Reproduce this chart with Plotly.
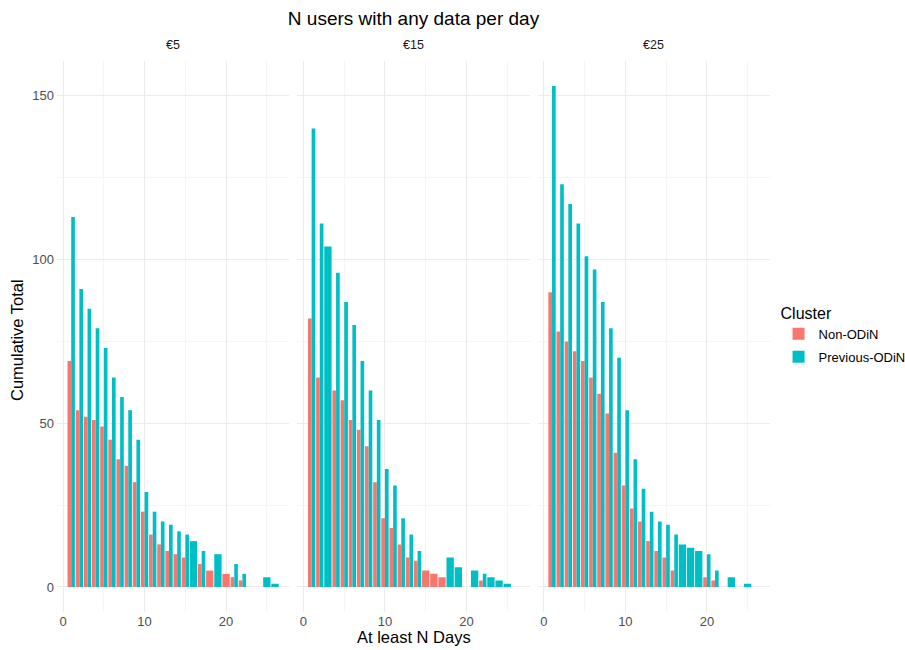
import plotly.graph_objects as go

# ---- data ----
panels = ["€5", "€15", "€25"]
series_names = ["Non-ODiN", "Previous-ODiN"]

days_p1_non = [1, 2, 3, 4, 5, 6, 7, 8, 9, 10, 11, 12, 13, 14, 15, 17, 18, 20, 21, 22]
vals_p1_non = [69, 54, 52, 51, 49, 45, 39, 37, 32, 23, 16, 13, 11, 10, 9, 7, 5, 4, 3, 2]
days_p1_prev = [1, 2, 3, 4, 5, 6, 7, 8, 9, 10, 11, 12, 13, 14, 15, 16, 17, 19, 21, 22, 25, 26]
vals_p1_prev = [113, 91, 85, 79, 73, 64, 58, 54, 45, 29, 23, 20, 19, 17, 16, 14, 11, 10, 7, 4, 3, 1]

days_p2_non = [1, 2, 4, 5, 6, 7, 8, 9, 10, 11, 12, 13, 14, 15, 16, 17, 22]
vals_p2_non = [82, 64, 60, 57, 51, 48, 43, 32, 21, 18, 13, 9, 8, 5, 4, 3, 2]
days_p2_prev = [1, 2, 3, 4, 5, 6, 7, 8, 9, 10, 11, 12, 13, 14, 18, 19, 21, 22, 23, 24, 25]
vals_p2_prev = [140, 111, 104, 96, 87, 80, 69, 60, 51, 36, 31, 21, 16, 11, 9, 6, 5, 4, 3, 2, 1]

days_p3_non = [1, 2, 3, 4, 5, 6, 7, 8, 9, 10, 11, 12, 13, 14, 15, 16, 20, 21]
vals_p3_non = [90, 78, 75, 72, 69, 64, 59, 53, 41, 31, 24, 20, 14, 11, 9, 5, 3, 2]
days_p3_prev = [1, 2, 3, 4, 5, 6, 7, 8, 9, 10, 11, 12, 13, 14, 15, 16, 17, 18, 19, 20, 21, 23, 25]
vals_p3_prev = [153, 123, 117, 111, 101, 97, 87, 79, 70, 54, 39, 30, 23, 20, 19, 16, 13, 12, 11, 10, 5, 3, 1]

x_ticks = [0, 10, 20]
y_ticks = [0, 50, 100, 150]

# ---- styling ----
colors = ["#F8766D", "#00BFC4"]
FONT = "Liberation Sans, Arial, sans-serif"
BAR_W = 0.9

panel_data = [
    ((days_p1_non, vals_p1_non), (days_p1_prev, vals_p1_prev)),
    ((days_p2_non, vals_p2_non), (days_p2_prev, vals_p2_prev)),
    ((days_p3_non, vals_p3_non), (days_p3_prev, vals_p3_prev)),
]

fig = go.Figure()

for p, (non, prev) in enumerate(panel_data):
    set_non = set(non[0])
    set_prev = set(prev[0])
    for s, (days, vals) in enumerate((non, prev)):
        other = set_prev if s == 0 else set_non
        offsets, widths = [], []
        for d in days:
            if d in other:
                widths.append(BAR_W / 2)
                offsets.append(-BAR_W / 2 if s == 0 else 0.0)
            else:
                widths.append(BAR_W)
                offsets.append(-BAR_W / 2)
        axis_suffix = "" if p == 0 else str(p + 1)
        fig.add_trace(go.Bar(
            x=days, y=vals, width=widths, offset=offsets,
            marker=dict(color=colors[s], line=dict(width=0)),
            name=series_names[s], legendgroup=series_names[s],
            showlegend=(p == 0),
            xaxis="x" + axis_suffix, yaxis="y" + axis_suffix,
        ))

# panel geometry
L, R, T, B = 57, 135, 61, 38
W = 905 - L - R
H = 650 - T - B
pw = 232.2
gap = (W - 3 * pw) / 2
domains = []
for i in range(3):
    a = (i * (pw + gap)) / W
    b = (i * (pw + gap) + pw) / W
    domains.append([a, min(b, 1.0)])

xr = [-0.745, 27.745]
yr = [-7.65, 160.65]

grid_major = "#EBEBEB"
grid_minor = "#F5F5F5"

layout = dict(
    width=905, height=650,
    margin=dict(l=L, r=R, t=T, b=B, autoexpand=False),
    paper_bgcolor="white", plot_bgcolor="white",
    barmode="overlay",
    font=dict(family=FONT, color="#4D4D4D", size=13),
    title=dict(text="N users with any data per day", x=0.5, xref="paper",
               y=1 - 18 / 650, yanchor="middle",
               font=dict(size=19, color="black", family=FONT)),
    legend=dict(
        title=dict(text="Cluster", font=dict(size=16, color="black")),
        font=dict(size=13, color="black"),
        x=1.012, xanchor="left", y=(650 - B - 298) / H, yanchor="top",
        bgcolor="rgba(0,0,0,0)", tracegroupgap=3,
    ),
    showlegend=True,
)

for i in range(3):
    suf = "" if i == 0 else str(i + 1)
    layout["xaxis" + suf] = dict(
        domain=domains[i], range=xr, anchor="y" + suf, automargin=False,
        tickmode="array", tickvals=x_ticks, ticktext=[str(t) for t in x_ticks],
        showgrid=True, gridcolor=grid_major, gridwidth=1.1,
        zeroline=False, showline=False, ticks="",
        tickfont=dict(size=13, color="#4D4D4D"),
        minor=dict(dtick=5, tick0=0, showgrid=True, gridcolor=grid_minor, gridwidth=0.6),
        fixedrange=True,
    )
    layout["yaxis" + suf] = dict(
        domain=[0, 1], range=yr, anchor="x" + suf, automargin=False,
        tickmode="array", tickvals=y_ticks, ticktext=[str(t) for t in y_ticks],
        showticklabels=(i == 0), ticklabelstandoff=2,
        showgrid=True, gridcolor=grid_major, gridwidth=1.1,
        zeroline=False, showline=False, ticks="",
        tickfont=dict(size=13, color="#4D4D4D"),
        minor=dict(dtick=25, tick0=0, showgrid=True, gridcolor=grid_minor, gridwidth=0.6),
        fixedrange=True,
    )

fig.update_layout(**layout)

annotations = []
for i, lab in enumerate(panels):
    annotations.append(dict(
        text=lab, xref="paper", yref="paper",
        x=(domains[i][0] + domains[i][1]) / 2, y=1 + 16 / H,
        xanchor="center", yanchor="middle", showarrow=False,
        font=dict(size=12.5, color="#1A1A1A", family=FONT),
    ))
annotations.append(dict(
    text="At least N Days", xref="paper", yref="paper",
    x=0.5, y=-(637 - (650 - B)) / H, xanchor="center", yanchor="middle",
    showarrow=False, font=dict(size=16.5, color="black", family=FONT),
))
annotations.append(dict(
    text="Cumulative Total", xref="paper", yref="paper",
    x=-(L - 17) / W, y=0.5 - (340 - (T + H / 2)) / H, xanchor="center", yanchor="middle",
    textangle=-90, showarrow=False, font=dict(size=16.5, color="black", family=FONT),
))
fig.update_layout(annotations=annotations)

fig.write_html(
    "out.html",
    config={"displayModeBar": False},
    post_script="document.body.style.margin='0';document.body.style.overflow='hidden';",
)
